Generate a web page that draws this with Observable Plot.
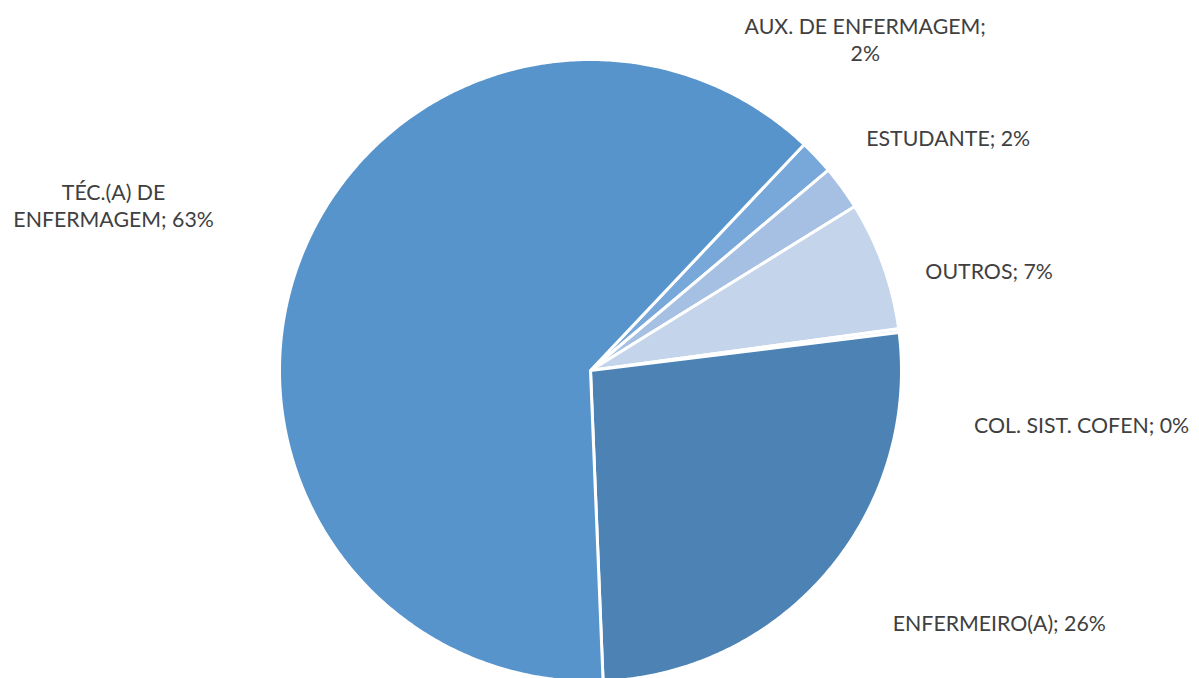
<!DOCTYPE html>
<html>
<head>
<meta charset="utf-8">
<script src="https://cdn.jsdelivr.net/npm/d3@7"></script>
<script src="https://cdn.jsdelivr.net/npm/@observablehq/plot@0.6"></script>
<style>
  html, body { margin: 0; padding: 0; background: #fff; overflow: hidden; }
  #chart svg { display: block; }
</style>
</head>
<body>
<div id="chart"></div>
<script>
// ---- data (clockwise order as drawn) ----
const categories = ["AUX. DE ENFERMAGEM", "ESTUDANTE", "OUTROS", "COL. SIST. COFEN", "ENFERMEIRO(A)", "TÉC.(A) DE ENFERMAGEM"];
const values = [1.8, 2.3, 6.7, 0.2, 26.3, 62.7];
const labelTexts = ["AUX. DE ENFERMAGEM;\n2%", "ESTUDANTE; 2%", "OUTROS; 7%", "COL. SIST. COFEN; 0%", "ENFERMEIRO(A); 26%", "TÉC.(A) DE\nENFERMAGEM; 63%"];
const colors = ["#78A8DA", "#A6C0E3", "#C4D4EB", "#DCE6F3", "#4C83B4", "#5794CB"];

// ---- layout (not data) ----
const W = 1199, H = 678;
const cx = 590, cy = 370, R = 311;
const startAngle = 43.4;          // degrees clockwise from 12 o'clock
const labelAngle = [39.6, 56.9, 75.9, 96.2, 121.6, 289.2];
const labelDist  = [431, 427, 411, 494, 480, 505];

const total = d3.sum(values);
const rad = d => d * Math.PI / 180;
const polar = (deg, r) => [r * Math.sin(rad(deg)), r * Math.cos(rad(deg))];

// build slice polygons from the values
const pts = [];
let a0 = startAngle;
categories.forEach((c, i) => {
  const sweep = values[i] / total * 360;
  const a1 = a0 + sweep;
  pts.push({cat: c, x: 0, y: 0});
  const n = Math.max(2, Math.ceil(sweep / 0.5));
  for (let k = 0; k <= n; k++) {
    const [x, y] = polar(a0 + sweep * k / n, R);
    pts.push({cat: c, x, y});
  }
  pts.push({cat: c, x: 0, y: 0});
  a0 = a1;
});

const labels = categories.map((c, i) => {
  const [x, y] = polar(labelAngle[i], labelDist[i]);
  return {cat: c, text: labelTexts[i], x, y};
});

const chart = Plot.plot({
  width: W,
  height: H,
  margin: 0,
  style: {background: "#fff", fontFamily: "Lato, sans-serif"},
  x: {domain: [-cx, W - cx], axis: null},
  y: {domain: [-(H - cy), cy], axis: null},
  color: {domain: categories, range: colors},
  marks: [
    Plot.line(pts, {x: "x", y: "y", z: "cat", fill: "cat", stroke: "#fff", strokeWidth: 3, strokeLinejoin: "round", curve: "linear"}),
    Plot.text(labels, {x: "x", y: "y", text: "text", fill: "#404040", fontSize: 21.3, lineHeight: 1.27, textAnchor: "middle", lineAnchor: "middle"})
  ]
});
document.getElementById("chart").append(chart);
</script>
</body>
</html>
